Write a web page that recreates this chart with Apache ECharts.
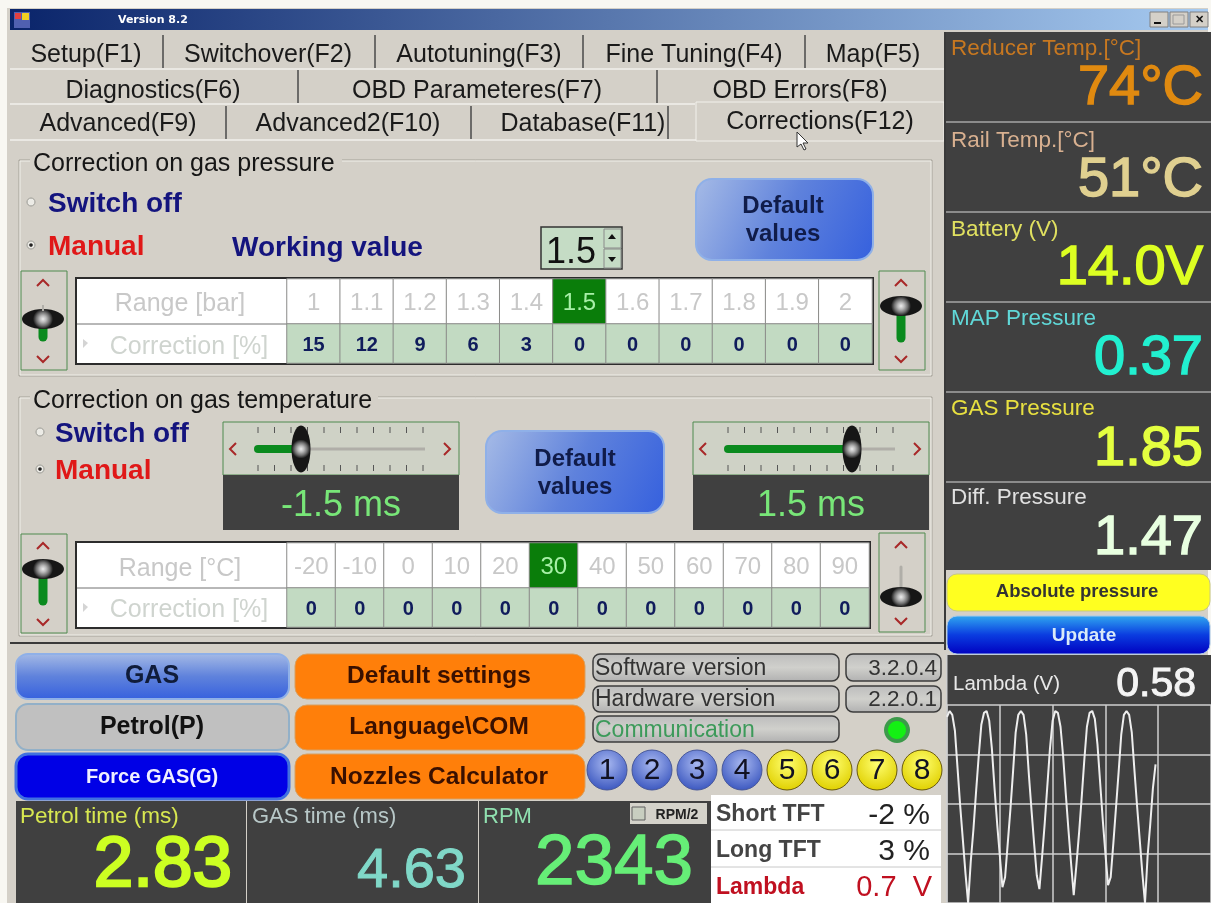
<!DOCTYPE html>
<html>
<head>
<meta charset="utf-8">
<title>Version 8.2</title>
<style>
html, body { margin: 0; padding: 0; background: #f8f7f2; }
#main { width: 1211px; height: 903px; }
</style>
<script src="https://cdn.jsdelivr.net/npm/echarts@6/dist/echarts.min.js"></script>
</head>
<body>
<div id="main"></div>
<script>
var tabsRow1 = ['Setup(F1)', 'Switchover(F2)', 'Autotuning(F3)', 'Fine Tuning(F4)', 'Map(F5)'];
var tabsRow2 = ['Diagnostics(F6)', 'OBD Parameteres(F7)', 'OBD Errors(F8)'];
var tabsRow3 = ['Advanced(F9)', 'Advanced2(F10)', 'Database(F11)', 'Corrections(F12)'];

var pressureRange = ['1', '1.1', '1.2', '1.3', '1.4', '1.5', '1.6', '1.7', '1.8', '1.9', '2'];
var pressureCorrection = [15, 12, 9, 6, 3, 0, 0, 0, 0, 0, 0];
var temperatureRange = ['-20', '-10', '0', '10', '20', '30', '40', '50', '60', '70', '80', '90'];
var temperatureCorrection = [0, 0, 0, 0, 0, 0, 0, 0, 0, 0, 0, 0];

var gaugeTitles = ['Reducer Temp.[°C]', 'Rail Temp.[°C]', 'Battery (V)', 'MAP Pressure', 'GAS Pressure', 'Diff. Pressure'];
var gaugeValues = ['74°C', '51°C', '14.0V', '0.37', '1.85', '1.47'];
var cylinders = ['1', '2', '3', '4', '5', '6', '7', '8'];

// lambda trace, volts per sample
var lambdaVolts = [
    0.94, 0.97, 0.95, 0.87, 0.68, 0.49, 0.32, 0.15, 0.00, 0.21,
    0.37, 0.56, 0.74, 0.90, 0.96, 0.97, 0.92, 0.78, 0.58, 0.40,
    0.24, 0.08, 0.13, 0.30, 0.47, 0.66, 0.86, 0.95, 0.97, 0.95,
    0.85, 0.65, 0.47, 0.30, 0.14, 0.07, 0.23, 0.40, 0.59, 0.78,
    0.92, 0.97, 0.96, 0.89, 0.74, 0.55, 0.37, 0.20, 0.04, 0.19,
    0.35, 0.53, 0.72, 0.89, 0.96, 0.97, 0.93, 0.80, 0.61, 0.42,
    0.25, 0.09, 0.13, 0.30, 0.48, 0.66, 0.85, 0.95, 0.97, 0.95,
    0.86, 0.67, 0.49, 0.32, 0.15, 0.00, 0.24, 0.40, 0.58, 0.70
];

var SANS = '"Liberation Sans", Arial, sans-serif';
var FACE = '#d4d0c8';
var DARK = '#404040';
var KNOB = ['#ececec', '#b8b8b8', '#707070', '#161616'];
var els = [];

function linear(x2, y2, stops) {
    return new echarts.graphic.LinearGradient(0, 0, x2, y2, stops.map(function (c, i) {
        return { offset: i / (stops.length - 1), color: c };
    }));
}

function radial(stops) {
    return new echarts.graphic.RadialGradient(0.5, 0.5, 0.5, stops.map(function (c, i) {
        return { offset: i / (stops.length - 1), color: c };
    }));
}

function rect(x, y, w, h, fill, stroke, r, lw) {
    els.push({
        type: 'rect', silent: true,
        shape: { x: x, y: y, width: w, height: h, r: r || 0 },
        style: { fill: fill, stroke: stroke || null, lineWidth: lw || 1 }
    });
}

function line(x1, y1, x2, y2, color, lw, cap) {
    els.push({
        type: 'line', silent: true,
        shape: { x1: x1, y1: y1, x2: x2, y2: y2 },
        style: { stroke: color, lineWidth: lw || 1, lineCap: cap || 'butt' }
    });
}

// middle alignment sits above the digits, push big text down with its size
function text(str, x, y, size, color, align, bold, family) {
    els.push({
        type: 'text', silent: true, x: x, y: y + Math.round(size * 0.08),
        style: {
            text: str, fill: color, align: align || 'left', verticalAlign: 'middle',
            font: (bold ? 'bold ' : '') + size + 'px ' + (family || SANS)
        }
    });
}

// the big readouts are heavier than regular but lighter than bold
function readout(str, x, y, size, color, weight) {
    els.push({
        type: 'text', silent: true, x: x, y: y + Math.round(size * 0.08),
        style: {
            text: str, fill: color, stroke: color, lineWidth: weight,
            align: 'right', verticalAlign: 'middle',
            font: size + 'px ' + SANS
        }
    });
}

function ellipse(cx, cy, rx, ry, fill, stroke) {
    els.push({
        type: 'ellipse', silent: true,
        shape: { cx: cx, cy: cy, rx: rx, ry: ry },
        style: { fill: fill, stroke: stroke || null }
    });
}

function chevron(cx, cy, dir) {
    var pts;
    if (dir === 'up') pts = [[cx - 6, cy + 3], [cx, cy - 3], [cx + 6, cy + 3]];
    if (dir === 'down') pts = [[cx - 6, cy - 3], [cx, cy + 3], [cx + 6, cy - 3]];
    if (dir === 'left') pts = [[cx + 3, cy - 6], [cx - 3, cy], [cx + 3, cy + 6]];
    if (dir === 'right') pts = [[cx - 3, cy - 6], [cx + 3, cy], [cx - 3, cy + 6]];
    els.push({
        type: 'polyline', silent: true,
        shape: { points: pts },
        style: { stroke: '#a82828', lineWidth: 2, fill: null }
    });
}

function radio(cx, cy, checked) {
    ellipse(cx, cy, 4, 4, '#ecebe6', '#9a9a94');
    if (checked) ellipse(cx, cy, 1.8, 1.8, '#222222');
}

function groupBox(label, labelWidth, y, h) {
    rect(19, y, 913, h, null, '#a5a299');
    rect(20, y + 1, 911, h - 2, null, '#f0efe9');
    rect(30, y - 12, labelWidth, 24, FACE);
    text(label, 33, y + 2, 25, '#161616');
}

function vSlider(x, y, h, knobY, fillFrom, fillTo) {
    rect(x, y, 46, h, FACE, '#4f8a4f');
    chevron(x + 22, y + 12, 'up');
    chevron(x + 22, y + h - 11, 'down');
    line(x + 22, fillFrom, x + 22, fillTo, fillFrom > knobY ? '#0a8a1e' : '#b0aea8', fillFrom > knobY ? 9 : 3, 'round');
    ellipse(x + 22, knobY, 21, 10, radial(KNOB));
}

function hSlider(x, knobX) {
    rect(x, 422, 236, 53, '#cfd2c6', '#4f8a4f');
    chevron(x + 10, 449, 'left');
    chevron(x + 224, 449, 'right');
    for (var i = 0; i < 11; i++) {
        var tx = x + 35 + i * 16.5;
        line(tx, 427, tx, 433, '#555555');
        line(tx, 465, tx, 471, '#555555');
    }
    line(x + 32, 449, x + 202, 449, '#b0aea8', 3);
    line(x + 35, 449, knobX, 449, '#0a8a1e', 8, 'round');
    ellipse(knobX, 449, 9.5, 23.5, radial(KNOB));
    rect(x, 475, 236, 55, DARK);
}

function blueButton(x, y, w, h, r) {
    rect(x, y, w, h, linear(1, 1, ['#a6bbe6', '#5f82dc', '#3560de']), '#8fb0e8', r, 2);
}

// ---- window frame ----
rect(7, 8, 1201, 895, FACE);
rect(10, 9, 1198, 21, linear(1, 0, ['#0a246a', '#a6caf0']));
rect(14, 12, 16, 16, '#5060b0');
rect(22, 13, 7, 7, '#f0d020');
rect(15, 13, 6, 6, '#e04040');
text('Version 8.2', 118, 19, 11, '#ffffff', 'left', true, '"DejaVu Sans", sans-serif');
rect(1150, 12, 18, 15, FACE, '#808080');
line(1154, 23, 1161, 23, '#111111', 2);
rect(1170, 12, 18, 15, FACE, '#808080');
rect(1173, 15, 11, 9, null, '#9a9a9a');
rect(1190, 12, 18, 15, FACE, '#808080');
text('✕', 1199, 19, 11, '#111111', 'center', true);

// ---- tabs ----
function tabRow(labels, centers, y, seps, sepTop, sepBottom) {
    labels.forEach(function (label, i) {
        text(label, centers[i], y, 25, '#1a1a1a', 'center');
    });
    seps.forEach(function (x) {
        line(x, sepTop, x, sepBottom, '#4a4a4a', 1.5);
    });
}
tabRow(tabsRow1, [86, 268, 479, 694, 873], 53, [163, 375, 583, 805], 35, 68);
line(10, 69, 944, 69, '#f2f1ec', 1.5);
tabRow(tabsRow2, [153, 477, 800], 89, [298, 657], 70, 103);
line(10, 104, 695, 104, '#f2f1ec', 1.5);
rect(696, 102, 248, 39, FACE, '#f2f1ec');
tabRow(tabsRow3.slice(0, 3), [118, 348, 583], 122, [226, 471, 668], 106, 139);
text(tabsRow3[3], 820, 120, 25, '#1a1a1a', 'center');
line(10, 140, 696, 140, '#f2f1ec', 1.5);
line(945, 32, 945, 650, '#3a3a3a', 2);

// ---- gas pressure group ----
groupBox('Correction on gas pressure', 312, 160, 216);
radio(31, 202, false);
text('Switch off', 48, 202, 28, '#14147e', 'left', true);
radio(31, 245, true);
text('Manual', 48, 245, 28, '#e01818', 'left', true);
text('Working value', 232, 246, 28, '#14147e', 'left', true);
rect(541, 227, 81, 42, '#c5dcc5', '#333333', 0, 1.5);
text('1.5', 546, 250, 36, '#111111');
rect(604, 229, 17, 19, '#c5dcc5', '#8a8a8a');
rect(604, 249, 17, 19, '#c5dcc5', '#8a8a8a');
els.push({ type: 'polygon', silent: true, shape: { points: [[612, 234], [608, 239], [616, 239]] }, style: { fill: '#111111' } });
els.push({ type: 'polygon', silent: true, shape: { points: [[612, 262], [608, 257], [616, 257]] }, style: { fill: '#111111' } });
blueButton(696, 179, 177, 81, 16);
text('Default', 783, 204, 24, '#101c4a', 'center', true);
text('values', 783, 232, 24, '#101c4a', 'center', true);
vSlider(21, 271, 99, 319, 326, 337);
line(43, 305, 43, 311, '#b0aea8', 2);
vSlider(879, 271, 99, 306, 314, 338);

// table frame 1
rect(76, 278, 797, 86, '#ffffff', '#2c2c2c', 0, 2);
line(77, 324, 287, 324, '#707070');
text('Range [bar]', 180, 302, 25, '#c8c8c8', 'center');
text('Correction [%]', 189, 345, 25, '#cfd4cf', 'center');
els.push({ type: 'polygon', silent: true, shape: { points: [[83, 339], [83, 348], [88, 343]] }, style: { fill: '#d4d4d4' } });

// ---- gas temperature group ----
groupBox('Correction on gas temperature', 348, 397, 239);
radio(40, 432, false);
text('Switch off', 55, 432, 28, '#14147e', 'left', true);
radio(40, 469, true);
text('Manual', 55, 469, 28, '#e01818', 'left', true);
hSlider(223, 301);
text('-1.5 ms', 341, 503, 36, '#78e678', 'center');
hSlider(693, 852);
text('1.5 ms', 811, 503, 36, '#78e678', 'center');
blueButton(486, 431, 178, 82, 16);
text('Default', 575, 457, 24, '#101c4a', 'center', true);
text('values', 575, 485, 24, '#101c4a', 'center', true);
vSlider(21, 534, 99, 569, 576, 601);
vSlider(879, 533, 99, 597, 567, 590);

// table frame 2
rect(76, 542, 794, 86, '#ffffff', '#2c2c2c', 0, 2);
line(77, 588, 287, 588, '#707070');
text('Range [°C]', 180, 567, 25, '#c8c8c8', 'center');
text('Correction [%]', 189, 608, 25, '#cfd4cf', 'center');
els.push({ type: 'polygon', silent: true, shape: { points: [[83, 603], [83, 612], [88, 607]] }, style: { fill: '#d4d4d4' } });

// ---- bottom controls ----
line(10, 643, 944, 643, '#3a3a3a', 2);
rect(16, 654, 273, 45, linear(0, 1, ['#a6bbe6', '#5f82dc', '#3560de']), '#8fb0e8', 12, 2);
text('GAS', 152, 674, 25, '#101c3a', 'center', true);
rect(16, 704, 273, 46, '#c0c0c0', '#92b0c8', 12, 2);
text('Petrol(P)', 152, 725, 25, '#111111', 'center', true);
rect(16, 754, 273, 45, '#0000e6', '#4070e0', 12, 3);
text('Force GAS(G)', 152, 775, 20, '#f0f0ff', 'center', true);
rect(295, 654, 290, 45, '#ff7f0a', '#d8a060', 12);
text('Default settings', 439, 674, 24.5, '#3a1000', 'center', true);
rect(295, 705, 290, 45, '#ff7f0a', '#d8a060', 12);
text('Language\\COM', 439, 725, 24.5, '#3a1000', 'center', true);
rect(295, 754, 290, 45, '#ff7f0a', '#d8a060', 12);
text('Nozzles Calculator', 439, 775, 24.5, '#3a1000', 'center', true);

function pill(x, y, w, h) {
    rect(x, y, w, h, linear(0, 1, ['#bcbcbc', '#d0d0cc', '#b0b0b0']), '#3c3c3c', 7, 1.5);
}
pill(593, 654, 246, 27);
text('Software version', 595, 667, 23, '#333333');
pill(593, 686, 246, 26);
text('Hardware version', 595, 698, 23, '#333333');
pill(593, 716, 246, 26);
text('Communication', 595, 729, 23, '#3c9a5a');
pill(846, 654, 95, 27);
text('3.2.0.4', 937, 667, 22.5, '#333333', 'right');
pill(846, 686, 95, 26);
text('2.2.0.1', 937, 698, 22.5, '#333333', 'right');
ellipse(897, 730, 13, 13, '#3c9a4a');
ellipse(897, 730, 9, 9, '#14f014');

cylinders.forEach(function (label, i) {
    var cx = 607 + i * 45;
    var isBlue = i < 4;
    var fill = new echarts.graphic.RadialGradient(0.5, 0.35, 0.65, [
        { offset: 0, color: isBlue ? '#a8b8f0' : '#ffff70' },
        { offset: 1, color: isBlue ? '#3c58c0' : '#e0d000' }
    ]);
    ellipse(cx, 770, 20, 20, fill, isBlue ? '#4a5a9a' : '#6a5a10');
    text(label, cx, 769, 30, '#111122', 'center');
});

// ---- bottom readouts ----
rect(16, 801, 230, 102, DARK);
rect(247, 801, 231, 102, DARK);
rect(479, 801, 232, 102, DARK);
text('Petrol time (ms)', 20, 815, 22.5, '#d8e850');
readout('2.83', 232, 860, 71, '#ccff22', 2.5);
text('GAS time (ms)', 252, 815, 22, '#b8c8c8');
readout('4.63', 466, 868, 56, '#80d8c8', 1);
text('RPM', 483, 815, 22, '#90e0b0');
readout('2343', 693, 858, 71, '#66ee77', 1.5);
rect(630, 803, 77, 21, '#d4d2ca');
rect(632, 807, 13, 13, '#c8cec0', '#606060');
text('RPM/2', 677, 814, 14, '#222222', 'center', true);
rect(711, 795, 230, 108, '#ffffff');
line(711, 830, 941, 830, '#c8c8c8');
line(711, 867, 941, 867, '#c8c8c8');
text('Short TFT', 716, 813, 23, '#444444', 'left', true);
text('-2 %', 930, 814, 30, '#222222', 'right');
text('Long TFT', 716, 849, 23, '#444444', 'left', true);
text('3 %', 930, 850, 30, '#222222', 'right');
text('Lambda', 716, 886, 23, '#c01020', 'left', true);
text('0.7  V', 932, 886, 29, '#c01020', 'right');

// ---- right gauges ----
rect(946, 32, 265, 538, DARK);
var gaugeTitleColors = ['#c87820', '#d8b090', '#e0e060', '#60d8d8', '#e8e040', '#e0e0e0'];
var gaugeValueColors = ['#e08a10', '#e0d090', '#ddff22', '#22f0d0', '#e4ff40', '#e8ffe0'];
var gaugeTitleY = [47, 139, 228, 317, 407, 496];
var gaugeValueY = [85, 177, 265, 355, 446, 535];
gaugeTitles.forEach(function (title, i) {
    text(title, 951, gaugeTitleY[i], 22.5, gaugeTitleColors[i]);
    readout(gaugeValues[i], 1203, gaugeValueY[i], 56, gaugeValueColors[i], 1.5);
});
[122, 212, 302, 392, 482].forEach(function (y) {
    line(946, y, 1211, y, '#d8d8d8');
});
rect(947, 574, 263, 37, '#ffff20', '#c8c880', 10);
text('Absolute pressure', 1077, 591, 18.5, '#333333', 'center', true);
rect(947, 616, 263, 38, linear(0, 1, ['#30a8f0', '#0a3ce0', '#0000c0']), '#a8c8e8', 10);
text('Update', 1084, 634, 19, '#d8eaf8', 'center', true);
rect(946, 655, 265, 248, DARK);
text('Lambda (V)', 953, 682, 20.5, '#e8e8e8');
readout('0.58', 1196, 682, 41, '#f4f4f4', 1);
rect(946, 654, 1.5, 249, '#cfcfcf');

// mouse pointer over the active tab
els.push({
    type: 'polygon', silent: true,
    shape: { points: [[797, 132], [797, 147], [801, 144], [804, 150], [806, 149], [803, 143], [808, 143]] },
    style: { fill: '#ffffff', stroke: '#333333', lineWidth: 1 }
});

// one grid per table row, the rows have different heights
function tableRow(gridIndex, categories, rowName, values, left, width, top, height, isRange) {
    var cellData = values.map(function (value, i) {
        var selected = isRange && i === 5;
        return {
            value: [i, 0, value],
            itemStyle: { color: isRange ? (selected ? '#0a7d0a' : '#ffffff') : '#c2dac2' },
            label: {
                color: isRange ? (selected ? '#a8f0a8' : '#c8c8c8') : '#101c5c',
                fontSize: isRange ? 24 : 20,
                fontWeight: isRange ? 'normal' : 'bold'
            }
        };
    });
    return {
        grid: { left: left, width: width, top: top, height: height, show: false },
        xAxis: { type: 'category', gridIndex: gridIndex, data: categories, show: false },
        yAxis: { type: 'category', gridIndex: gridIndex, data: [rowName], show: false },
        series: {
            type: 'heatmap', xAxisIndex: gridIndex, yAxisIndex: gridIndex, silent: true,
            data: cellData,
            itemStyle: { borderColor: '#8a8a88', borderWidth: 1 },
            label: {
                show: true, fontFamily: SANS, offset: [0, 2],
                formatter: function (p) { return String(p.value[2]); }
            }
        }
    };
}

var rows = [
    tableRow(0, pressureRange, 'Range [bar]', pressureRange, 287, 585, 279, 45, true),
    tableRow(1, pressureRange, 'Correction [%]', pressureCorrection, 287, 585, 324, 39, false),
    tableRow(2, temperatureRange, 'Range [°C]', temperatureRange, 287, 582, 543, 45, true),
    tableRow(3, temperatureRange, 'Correction [%]', temperatureCorrection, 287, 582, 588, 39, false)
];

var chart = echarts.init(document.getElementById('main'), null, { renderer: 'canvas' });
chart.setOption({
    animation: false,
    backgroundColor: '#f8f7f2',
    tooltip: { show: false },
    graphic: { elements: els },
    grid: rows.map(function (r) { return r.grid; }).concat([
        { left: 947, width: 265, top: 705, height: 200, show: false }
    ]),
    xAxis: rows.map(function (r) { return r.xAxis; }).concat([{
        type: 'value', gridIndex: 4, min: 0, max: 100, interval: 20, z: 3,
        axisLine: { show: false }, axisTick: { show: false }, axisLabel: { show: false },
        splitLine: { show: true, lineStyle: { color: '#cfcfcf', width: 1.5 } }
    }]),
    yAxis: rows.map(function (r) { return r.yAxis; }).concat([{
        type: 'value', gridIndex: 4, min: 0, max: 1, interval: 0.25, z: 3,
        axisLine: { show: false }, axisTick: { show: false }, axisLabel: { show: false },
        splitLine: { show: true, lineStyle: { color: '#cfcfcf', width: 1.5 } }
    }]),
    series: rows.map(function (r) { return r.series; }).concat([{
        type: 'line', name: 'Lambda (V)', xAxisIndex: 4, yAxisIndex: 4, silent: true,
        data: lambdaVolts.map(function (v, i) { return [i, v]; }),
        showSymbol: false, smooth: false, clip: true,
        lineStyle: { color: '#eeeeee', width: 2 }
    }])
});
</script>
</body>
</html>
